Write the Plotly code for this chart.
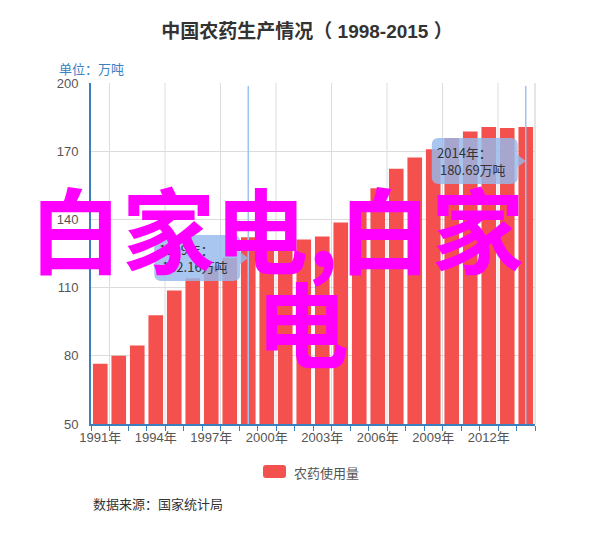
import plotly.graph_objects as go

# ---------------- data ----------------
years = list(range(1991, 2015))
usage = [76.53, 79.99, 84.48, 97.86, 108.7, 114.08, 119.55, 123.17, 132.16,
         127.95, 127.48, 131.13, 132.52, 138.6, 145.99, 153.71, 162.28,
         167.23, 170.9, 175.82, 178.7, 180.61, 180.19, 180.69]
year_labels = [f"{y}年" for y in years]
y_ticks = [50, 80, 110, 140, 170, 200]
label_step = 3
tooltip_years = [1999, 2014]

title_text = "中国农药生产情况（ 1998-2015 ）"
unit_text = "单位：万吨"
legend_text = "农药使用量"
source_text = "数据来源：国家统计局"
watermark_1 = "白家电,白家"
watermark_2 = "电"

# ---------------- layout geometry ----------------
W, Hgt = 600, 533
L, R, T, B = 91, 65, 83, 109
PW, PH = W - L - R, Hgt - T - B
n = len(years)
XMIN, XMAX = -0.5, n - 0.5
YMIN, YMAX = 50, 200
XPU = PW / (XMAX - XMIN)
YPU = PH / (YMAX - YMIN)

BAR = "#f4504e"
AXIS_BLUE = "#3c7fbd"
GRID = "#dcdcdc"
FONT = "Liberation Sans, Arial, Noto Sans CJK SC, sans-serif"
CJK = "Noto Sans CJK SC, sans-serif"

def px2x(px):
    return XMIN + (px - L) / XPU

def py2y(py):
    return YMIN + (T + PH - py) / YPU

def px2paper(px):
    return (px - L) / PW

def py2paper(py):
    return (T + PH - py) / PH

xs = list(range(n))

fig = go.Figure()
fig.add_trace(go.Bar(
    x=xs, y=usage, name=legend_text, marker=dict(color=BAR, line=dict(width=0)),
    width=0.79, showlegend=False,
    hovertemplate="%{customdata}：<br>%{y}万吨<extra></extra>",
    customdata=[str(y) + "年" for y in years],
))

shapes = []
# vertical grid lines every 3 categories (at category boundaries)
for i in range(0, n - 1, label_step):
    shapes.append(dict(type="line", xref="x", yref="y", x0=i + 0.5, x1=i + 0.5,
                       y0=YMIN, y1=YMAX, line=dict(color=GRID, width=1), layer="below"))
# right border
shapes.append(dict(type="line", xref="paper", yref="paper", x0=1, x1=1, y0=0, y1=1,
                   line=dict(color="#cccccc", width=1), layer="below"))

# tooltip pointer lines + rounded tooltip boxes
tips = []
box_tops = {1999: 235, 2014: 138}
for yr in tooltip_years:
    i = years.index(yr)
    val = usage[i]
    line_px = L + (i + 0.5) * XPU
    shapes.append(dict(type="line", xref="x", yref="y", x0=i, x1=i, y0=YMIN, y1=py2y(T + 3),
                       line=dict(color="#9ec3ee", width=1.5), layer="above"))
    right = line_px - 8
    left = right - 86
    top = box_tops[yr]
    bot = top + 46
    cy = (top + bot) / 2
    r = 7
    pts = [
        ("M", left + r, top), ("L", right - r, top), ("Q", right, top, right, top + r),
        ("L", right, cy - 6), ("L", line_px, cy), ("L", right, cy + 6),
        ("L", right, bot - r), ("Q", right, bot, right - r, bot),
        ("L", left + r, bot), ("Q", left, bot, left, bot - r),
        ("L", left, top + r), ("Q", left, top, left + r, top),
    ]
    path = ""
    for p in pts:
        cmd = p[0]
        coords = p[1:]
        segs = []
        for k in range(0, len(coords), 2):
            segs.append(f"{px2x(coords[k]):.4f},{py2y(coords[k+1]):.4f}")
        path += cmd + " ".join(segs) + " "
    path += "Z"
    shapes.append(dict(type="path", xref="x", yref="y", path=path,
                       fillcolor="rgba(149,186,236,0.82)", line=dict(width=0), layer="above"))
    tips.append(dict(xref="paper", yref="paper", x=px2paper(left + 3), y=py2paper(cy),
                     xanchor="left", yanchor="middle", align="left", showarrow=False,
                     text=f"{yr}年：<br> {val:.2f}万吨",
                     font=dict(family=CJK, size=13, color="#333333")))

# legend swatch
lx0, lx1, ly0, ly1 = 263, 286, 465, 478
rr = 3
leg_path = (f"M{px2paper(lx0+rr)},{py2paper(ly0)} L{px2paper(lx1-rr)},{py2paper(ly0)} "
            f"Q{px2paper(lx1)},{py2paper(ly0)} {px2paper(lx1)},{py2paper(ly0+rr)} "
            f"L{px2paper(lx1)},{py2paper(ly1-rr)} Q{px2paper(lx1)},{py2paper(ly1)} {px2paper(lx1-rr)},{py2paper(ly1)} "
            f"L{px2paper(lx0+rr)},{py2paper(ly1)} Q{px2paper(lx0)},{py2paper(ly1)} {px2paper(lx0)},{py2paper(ly1-rr)} "
            f"L{px2paper(lx0)},{py2paper(ly0+rr)} Q{px2paper(lx0)},{py2paper(ly0)} {px2paper(lx0+rr)},{py2paper(ly0)} Z")
shapes.append(dict(type="path", xref="paper", yref="paper", path=leg_path,
                   fillcolor=BAR, line=dict(width=0)))

annotations = [
    dict(xref="paper", yref="paper", x=px2paper(57), y=py2paper(68), xanchor="left",
         yanchor="middle", showarrow=False, text=unit_text,
         font=dict(family=CJK, size=13, color="#3b82c4")),
    dict(xref="paper", yref="paper", x=px2paper(292), y=py2paper(472), xanchor="left",
         yanchor="middle", showarrow=False, text=legend_text,
         font=dict(family=CJK, size=13, color="#555555")),
    dict(xref="paper", yref="paper", x=px2paper(91), y=py2paper(503), xanchor="left",
         yanchor="middle", showarrow=False, text=source_text,
         font=dict(family=CJK, size=13, color="#333333")),
] + tips + [
    dict(xref="paper", yref="paper", x=px2paper(276), y=py2paper(226), xanchor="center",
         yanchor="middle", showarrow=False, text=watermark_1,
         font=dict(family=CJK, size=93, color="#ff00ff", weight="bold")),
    dict(xref="paper", yref="paper", x=px2paper(302), y=py2paper(320), xanchor="center",
         yanchor="middle", showarrow=False, text=watermark_2,
         font=dict(family=CJK, size=93, color="#ff00ff", weight="bold")),
]

fig.update_layout(
    width=W, height=Hgt,
    margin=dict(l=L, r=R, t=T, b=B, pad=0),
    paper_bgcolor="white", plot_bgcolor="white",
    title=dict(text=title_text, x=307 / W, xref="container", xanchor="center",
               y=1 - 31 / Hgt, yref="container", yanchor="middle",
               font=dict(family=FONT, size=19, color="#333333", weight="bold")),
    bargap=0.21,
    xaxis=dict(range=[XMIN, XMAX], tickmode="array",
               tickvals=xs[::label_step], ticktext=year_labels[::label_step],
               showgrid=False, zeroline=False, showline=True, linecolor=AXIS_BLUE,
               linewidth=2, ticks="", tickfont=dict(family=FONT, size=13, color="#555555"),
               minor=dict(tickmode="array", tickvals=[i + 0.5 for i in range(-1, n)],
                          ticks="outside", ticklen=5, tickcolor=AXIS_BLUE, tickwidth=1,
                          showgrid=False),
               fixedrange=True),
    yaxis=dict(range=[YMIN, YMAX], tickmode="array", tickvals=y_ticks,
               showgrid=True, gridcolor=GRID, gridwidth=1, zeroline=False,
               showline=True, linecolor=AXIS_BLUE, linewidth=2, ticks="",
               ticklabelstandoff=8,
               tickfont=dict(family=FONT, size=13, color="#555555"), fixedrange=True),
    shapes=shapes,
    annotations=annotations,
    showlegend=False,
)

fig.write_html("out.html")
